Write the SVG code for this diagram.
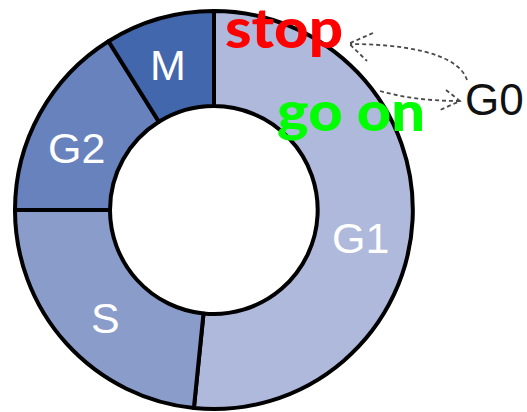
<svg xmlns="http://www.w3.org/2000/svg" width="527" height="412" viewBox="0 0 527 412">
<style>
.seg{stroke:#000;stroke-width:4;stroke-linejoin:round}
.lbl{font-family:"Liberation Sans",Arial,sans-serif;font-size:43px;fill:#fff}
.dash{fill:none;stroke:#4a4a4a;stroke-width:1.8;stroke-dasharray:4 3}
.ov{font-family:Lato,"Open Sans",sans-serif;font-weight:900;font-size:56px}
</style>
<rect width="527" height="412" fill="#fff"/>
<g id="seg-G1"><path class="seg" fill="#AEB9DB" d="M214 11 A199 199 0 1 1 193.9 408 L203.5 313.5 A104 104 0 1 0 214 106 Z"/><text class="lbl" x="332" y="253">G1</text></g>
<g id="seg-S"><path class="seg" fill="#8A9CC9" d="M193.9 408 A199 199 0 0 1 15 210 L110 210 A104 104 0 0 0 203.5 313.5 Z"/><text class="lbl" x="91" y="333">S</text></g>
<g id="seg-G2"><path class="seg" fill="#6782BC" d="M15 210 A199 199 0 0 1 108.5 41.2 L158.9 121.8 A104 104 0 0 0 110 210 Z"/><text class="lbl" x="48" y="163">G2</text></g>
<g id="seg-M"><path class="seg" fill="#4367AD" d="M108.5 41.2 A199 199 0 0 1 214 11 L214 106 A104 104 0 0 0 158.9 121.8 Z"/><text class="lbl" x="150" y="80">M</text></g>
<g id="node-G0"><text x="465" y="115" font-family="Liberation Sans,Arial,sans-serif" font-size="44" fill="#111">G0</text></g>
<g id="connectors">
<path class="dash" d="M467 80 C458 52 400 44 350 44"/>
<path class="dash" d="M373 33 L349 43.5 L367 61"/>
<path class="dash" d="M380 91 C405 98 430 101 460 101"/>
<path class="dash" d="M446 90 L460 101 L440 110"/>
</g>
<g id="overlay-text">
<text class="ov" x="225" y="48" fill="#FF0000" textLength="118" lengthAdjust="spacingAndGlyphs">stop</text>
<text class="ov" x="277" y="131" fill="#00FF00" textLength="148" lengthAdjust="spacingAndGlyphs">go on</text>
</g>
</svg>
